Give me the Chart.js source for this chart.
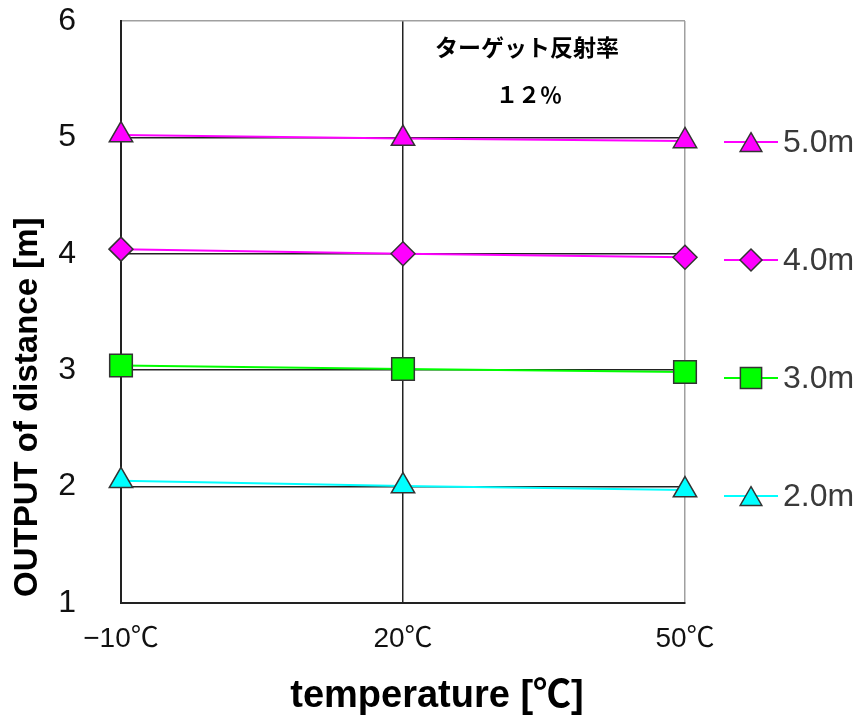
<!DOCTYPE html>
<html>
<head>
<meta charset="utf-8">
<script src="https://cdn.jsdelivr.net/npm/chart.js@4.4.0/dist/chart.umd.min.js"></script>
<style>
  body { margin: 0; background: #fff; }
  #wrap { width: 859px; height: 725px; }
</style>
</head>
<body>
<div id="wrap"><canvas id="distChart" width="859" height="725"></canvas></div>
<script>
// measured output per target distance, one value per temperature
const temperatures = ['−10℃', '20℃', '50℃'];
const seriesNames = ['5.0m', '4.0m', '3.0m', '2.0m'];
const out50 = [5.02, 4.99, 4.97];
const out40 = [4.04, 4.00, 3.97];
const out30 = [3.04, 3.01, 2.985];
const out20 = [2.05, 2.005, 1.97];
const yMin = 1;
const yMax = 6;
const noteLines = ['ターゲット反射率', '１２％'];
const xTitle = 'temperature [℃]';
const yTitle = 'OUTPUT of distance [m]';

const latin = "'Liberation Sans', 'Noto Sans CJK JP', sans-serif";
const jp = "'Noto Sans CJK JP', sans-serif";

const looks = [
    { color: '#ff00ff', point: 'triangle', radius: 13.5 },
    { color: '#ff00ff', point: 'rectRot', radius: 12 },
    { color: '#00ff00', point: 'rect', radius: 16 },
    { color: '#00ffff', point: 'triangle', radius: 13.5 }
];

const datasets = [out50, out40, out30, out20].map((values, i) => ({
    label: seriesNames[i],
    data: values,
    borderColor: looks[i].color,
    borderWidth: 2,
    pointStyle: looks[i].point,
    pointRadius: looks[i].radius,
    pointBackgroundColor: looks[i].color,
    pointBorderColor: '#333',
    pointBorderWidth: 1.5,
    tension: 0,
    clip: false
}));

// legend entries down the right side: short line, marker, name
const sideLegend = {
    id: 'sideLegend',
    afterDraw(chart, args, opts) {
        const ctx = chart.ctx;
        chart.data.datasets.forEach((ds, i) => {
            const y = opts.top + i * opts.step;
            const cx = (opts.x0 + opts.x1) / 2;
            ctx.save();
            ctx.strokeStyle = ds.borderColor;
            ctx.lineWidth = 2;
            ctx.beginPath();
            ctx.moveTo(opts.x0, y);
            ctx.lineTo(opts.x1, y);
            ctx.stroke();

            const r = ds.pointRadius - 1;
            const shift = ds.pointStyle === 'triangle' ? r / 4 : 0;
            ctx.fillStyle = ds.pointBackgroundColor;
            ctx.strokeStyle = ds.pointBorderColor;
            ctx.lineWidth = ds.pointBorderWidth;
            Chart.helpers.drawPoint(ctx, {
                pointStyle: ds.pointStyle,
                radius: r,
                borderWidth: ds.pointBorderWidth,
                rotation: 0
            }, cx, y + shift);

            ctx.fillStyle = opts.color;
            ctx.font = opts.font;
            ctx.textAlign = 'left';
            ctx.textBaseline = 'middle';
            ctx.fillText(ds.label, opts.x1 + 5, y + 1);
            ctx.restore();
        });
    }
};

// axis titles and the reflectance note inside the plot
const chartText = {
    id: 'chartText',
    afterDraw(chart) {
        const ctx = chart.ctx;
        ctx.save();
        ctx.fillStyle = '#000';

        ctx.font = `bold 38px ${latin}`;
        ctx.textAlign = 'center';
        ctx.textBaseline = 'middle';
        ctx.fillText(xTitle, 437, 697);

        ctx.save();
        ctx.translate(28, 597);
        ctx.rotate(-Math.PI / 2);
        ctx.font = `bold 33px ${latin}`;
        ctx.textAlign = 'left';
        ctx.fillText(yTitle, 0, 0);
        ctx.restore();

        ctx.font = `bold 23px ${jp}`;
        ctx.textAlign = 'center';
        ctx.fillText(noteLines[0], 527, 47);
        ctx.font = `bold 22px ${jp}`;
        ctx.fillText(noteLines[1], 529, 95);
        ctx.restore();
    }
};

new Chart(document.getElementById('distChart'), {
    type: 'line',
    data: { labels: temperatures, datasets: datasets },
    options: {
        responsive: false,
        devicePixelRatio: 1,
        animation: false,
        layout: { padding: { top: 21, right: 174, left: 0, bottom: 0 } },
        plugins: {
            legend: { display: false },
            tooltip: { enabled: false },
            sideLegend: {
                x0: 724, x1: 778, top: 142, step: 118,
                color: '#3a3a3a', font: `32px ${latin}`
            }
        },
        scales: {
            x: {
                type: 'category',
                offset: false,
                grid: {
                    color: c => c.index === temperatures.length - 1 ? '#a0a0a0' : '#222',
                    lineWidth: 1.5,
                    drawTicks: false
                },
                border: { color: '#222', width: 2 },
                ticks: {
                    color: '#111',
                    font: { family: latin, size: 28 },
                    padding: 19,
                    maxRotation: 0,
                    autoSkip: false
                },
                afterFit: s => { s.height = 122; }
            },
            y: {
                min: yMin,
                max: yMax,
                grid: {
                    color: c => c.tick.value === yMax ? '#a0a0a0' : '#222',
                    lineWidth: 1.5,
                    drawTicks: false
                },
                border: { color: '#222', width: 2 },
                ticks: {
                    stepSize: 1,
                    color: '#111',
                    font: { family: latin, size: 32 },
                    padding: 45
                },
                // fixed axis width; the wide label gap should not push the plot down
                afterFit: s => {
                    s.width = 121;
                    s.paddingTop = 19;
                    s.paddingBottom = 19;
                }
            }
        }
    },
    plugins: [sideLegend, chartText]
});
</script>
</body>
</html>
